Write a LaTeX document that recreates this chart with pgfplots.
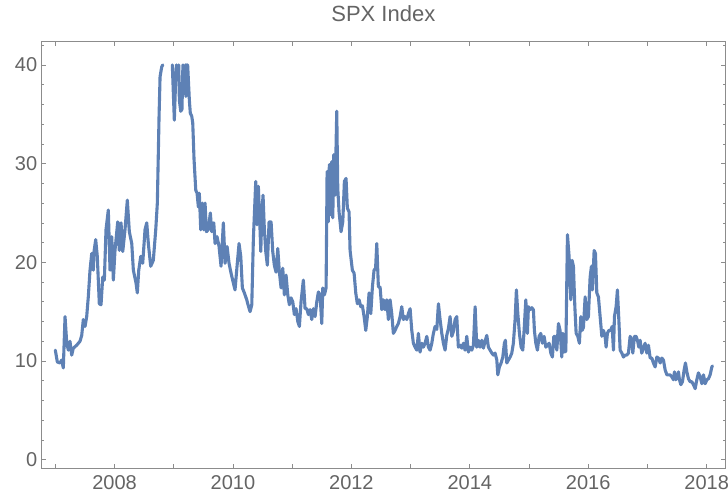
\documentclass[border=0pt]{standalone}
\usepackage{pgfplots}
\usepackage{pgfplotstable}
\usepackage{fontspec}
\setmainfont{Liberation Sans}
\pgfplotsset{compat=1.18}
\definecolor{mblue}{rgb}{0.368417,0.506779,0.709798}
\definecolor{lblgray}{RGB}{100,100,100}
\definecolor{frgray}{RGB}{140,140,140}
\pgfplotstableread{
x y
2007.000 11.1
2007.034 9.9
2007.079 9.8
2007.108 10.1
2007.135 9.3
2007.164 14.5
2007.193 11.8
2007.220 11.1
2007.248 12.0
2007.277 10.6
2007.304 11.3
2007.361 11.6
2007.417 12.0
2007.446 12.6
2007.473 14.2
2007.502 13.5
2007.530 14.5
2007.557 16.5
2007.586 19.2
2007.615 20.9
2007.642 19.2
2007.654 21.1
2007.682 22.3
2007.709 20.6
2007.743 15.8
2007.772 15.7
2007.801 18.5
2007.828 18.2
2007.856 23.3
2007.895 25.3
2007.924 19.2
2007.953 22.6
2007.980 18.2
2008.008 21.2
2008.054 24.1
2008.081 21.2
2008.110 24.0
2008.139 21.1
2008.177 23.3
2008.216 26.3
2008.250 23.1
2008.291 21.9
2008.318 19.2
2008.363 17.9
2008.385 16.9
2008.409 19.2
2008.443 20.6
2008.476 19.9
2008.515 23.3
2008.544 24.0
2008.571 21.9
2008.611 19.6
2008.655 20.2
2008.696 23.3
2008.723 26.0
2008.752 34.8
2008.769 38.8
2008.797 39.8
2008.815 40
2008.900 nan
2008.976 40
2009.010 34.4
2009.034 38.8
2009.045 40
2009.060 nan
2009.085 40
2009.095 36.4
2009.118 35.3
2009.139 35.5
2009.155 40
2009.175 nan
2009.197 40
2009.204 36.8
2009.215 40
2009.225 nan
2009.235 40
2009.247 38.5
2009.264 36.4
2009.280 35.1
2009.304 34.8
2009.321 34.1
2009.343 30.4
2009.372 27.3
2009.394 27.0
2009.416 25.6
2009.432 27.0
2009.456 23.3
2009.483 26.0
2009.507 23.3
2009.529 26.0
2009.551 23.1
2009.584 23.3
2009.618 25.0
2009.642 23.1
2009.676 24.0
2009.698 21.9
2009.731 22.6
2009.765 21.6
2009.799 19.6
2009.838 24.0
2009.867 19.9
2009.901 21.6
2009.934 19.9
2009.968 18.9
2010.007 17.9
2010.035 17.2
2010.069 19.6
2010.103 21.9
2010.132 20.6
2010.159 17.4
2010.193 16.9
2010.233 16.2
2010.250 15.8
2010.289 15.0
2010.318 15.7
2010.345 22.4
2010.385 28.2
2010.407 23.8
2010.429 27.7
2010.453 24.1
2010.470 21.1
2010.486 24.5
2010.508 26.8
2010.530 23.4
2010.554 21.1
2010.581 19.7
2010.610 24.1
2010.644 24.1
2010.672 21.1
2010.699 19.7
2010.728 19.0
2010.757 21.4
2010.784 19.0
2010.813 17.4
2010.841 19.4
2010.868 16.7
2010.897 18.7
2010.926 16.7
2010.953 15.7
2010.981 16.4
2011.010 16.0
2011.037 14.7
2011.066 15.3
2011.095 14.0
2011.122 13.5
2011.150 16.0
2011.189 18.2
2011.218 15.3
2011.247 15.3
2011.274 14.7
2011.302 15.2
2011.331 14.2
2011.358 15.3
2011.387 14.5
2011.416 16.0
2011.443 17.0
2011.471 16.7
2011.500 13.8
2011.517 17.4
2011.544 16.7
2011.573 17.4
2011.590 29.2
2011.611 24.1
2011.628 29.9
2011.652 24.8
2011.669 30.2
2011.686 24.5
2011.703 30.9
2011.725 26.8
2011.753 35.3
2011.770 27.5
2011.792 25.1
2011.826 23.1
2011.855 24.1
2011.882 28.2
2011.910 28.5
2011.932 25.5
2011.961 25.1
2011.978 21.2
2012.017 19.2
2012.046 18.9
2012.074 16.9
2012.101 15.8
2012.130 16.2
2012.159 15.5
2012.186 15.6
2012.215 14.5
2012.243 13.1
2012.270 14.5
2012.299 16.9
2012.328 14.8
2012.355 17.5
2012.383 19.2
2012.409 19.4
2012.429 21.9
2012.456 17.5
2012.485 17.5
2012.514 15.2
2012.541 16.2
2012.569 15.2
2012.598 16.2
2012.625 14.2
2012.654 16.2
2012.682 14.8
2012.709 12.8
2012.738 13.1
2012.767 13.5
2012.794 13.8
2012.823 14.5
2012.851 15.5
2012.878 14.2
2012.907 14.5
2012.936 14.2
2012.963 14.8
2012.992 15.3
2013.020 13.1
2013.047 11.8
2013.076 11.4
2013.105 11.1
2013.132 12.8
2013.160 10.9
2013.189 11.8
2013.216 11.4
2013.245 11.8
2013.274 12.5
2013.301 11.4
2013.329 11.1
2013.358 11.8
2013.385 12.8
2013.414 13.5
2013.443 13.2
2013.470 15.8
2013.498 14.2
2013.527 12.8
2013.554 11.8
2013.583 11.1
2013.611 12.6
2013.639 13.3
2013.667 14.5
2013.696 12.5
2013.723 13.0
2013.752 14.2
2013.780 14.5
2013.807 11.4
2013.836 11.6
2013.865 11.3
2013.892 11.8
2013.920 11.1
2013.949 12.5
2013.976 10.9
2014.005 11.4
2014.034 11.1
2014.061 11.6
2014.090 15.5
2014.118 11.4
2014.145 12.1
2014.174 11.4
2014.203 12.1
2014.230 11.3
2014.258 12.0
2014.287 12.6
2014.314 11.4
2014.343 11.1
2014.372 10.8
2014.399 10.6
2014.427 10.8
2014.456 10.1
2014.473 8.6
2014.500 9.4
2014.529 9.8
2014.557 10.4
2014.584 11.8
2014.601 12.1
2014.625 9.8
2014.652 10.1
2014.681 10.4
2014.709 10.8
2014.736 11.8
2014.765 14.2
2014.787 17.2
2014.811 14.8
2014.838 12.8
2014.867 11.4
2014.895 11.1
2014.917 13.1
2014.946 16.2
2014.973 12.8
2014.990 15.5
2015.018 15.2
2015.047 15.4
2015.074 15.2
2015.091 13.1
2015.115 11.8
2015.142 11.1
2015.171 12.5
2015.199 12.8
2015.226 11.8
2015.255 12.5
2015.284 11.4
2015.311 11.6
2015.340 11.8
2015.368 10.8
2015.395 10.4
2015.419 12.5
2015.441 12.5
2015.470 11.1
2015.497 13.8
2015.525 13.1
2015.554 10.4
2015.571 12.8
2015.593 10.9
2015.622 11.0
2015.649 22.8
2015.677 20.6
2015.706 16.2
2015.728 20.2
2015.750 19.6
2015.774 15.5
2015.796 12.8
2015.824 12.5
2015.851 11.8
2015.875 14.5
2015.897 13.1
2015.919 13.4
2015.948 16.5
2015.976 14.2
2016.003 14.5
2016.032 18.5
2016.054 19.6
2016.071 17.2
2016.100 21.2
2016.122 20.9
2016.145 16.9
2016.172 16.5
2016.201 14.5
2016.230 12.5
2016.257 13.1
2016.285 12.5
2016.302 11.4
2016.324 12.8
2016.348 13.1
2016.378 13.1
2016.404 13.5
2016.426 11.1
2016.443 14.5
2016.471 15.5
2016.493 17.2
2016.517 14.2
2016.539 11.1
2016.568 10.8
2016.595 10.4
2016.623 10.6
2016.652 10.6
2016.679 10.8
2016.708 12.5
2016.736 12.1
2016.753 10.8
2016.780 12.5
2016.809 12.5
2016.831 12.1
2016.855 11.4
2016.877 12.1
2016.904 10.8
2016.932 11.3
2016.961 11.8
2016.990 10.8
2017.017 11.6
2017.046 10.3
2017.074 10.3
2017.101 9.8
2017.130 9.4
2017.159 10.4
2017.186 10.3
2017.215 9.8
2017.243 10.3
2017.270 10.1
2017.299 9.1
2017.328 8.6
2017.355 8.6
2017.383 8.6
2017.412 8.4
2017.439 8.1
2017.456 8.9
2017.480 8.1
2017.502 8.4
2017.524 8.9
2017.541 8.1
2017.564 7.6
2017.591 7.9
2017.620 9.1
2017.642 9.8
2017.666 8.9
2017.693 8.2
2017.721 7.9
2017.750 7.9
2017.777 7.6
2017.806 7.2
2017.834 8.1
2017.861 8.8
2017.890 8.4
2017.919 7.7
2017.946 8.6
2017.975 7.7
2018.003 8.1
2018.030 8.2
2018.059 8.6
2018.088 9.4
2018.098 9.5
}\spx
\begin{document}
\begin{tikzpicture}
\useasboundingbox (-41.7bp,-29bp) rectangle (686.3bp,468bp);
\begin{axis}[
  at={(0,0)}, anchor=south west,
  scale only axis,
  width=683.3bp, height=426.3bp,
  xmin=2006.77, xmax=2018.31,
  ymin=-0.84, ymax=42.35,
  xtick={2007,2008,...,2018},
  xticklabels={,2008,,2010,,2012,,2014,,2016,,2018},
  ytick={0,10,20,30,40},
  minor ytick={2,4,6,8,12,14,16,18,22,24,26,28,32,34,36,38,42},
  tick align=inside,
  major tick length=4.5bp,
  minor tick length=2.5bp,
  axis line style={frgray, line width=0.8bp},
  every tick/.style={frgray, line width=0.7bp},
  every minor tick/.style={frgray, line width=0.6bp},
  tick label style={text=lblgray, font=\fontsize{20bp}{24bp}\selectfont},
  yticklabel style={xshift=-1bp},
  xticklabel style={yshift=-4bp},
  /pgf/number format/assume math mode=true,
  scaled x ticks=false,
  title={SPX Index},
  title style={text=lblgray, font=\fontsize{22bp}{26bp}\selectfont, at={(0.5,1)}, anchor=base, yshift=14.5bp},
  unbounded coords=jump,
  clip=true,
]
\addplot[mblue, line width=3.1bp, line join=round, line cap=round] table[x=x,y=y] {\spx};
\end{axis}
\end{tikzpicture}
\end{document}
